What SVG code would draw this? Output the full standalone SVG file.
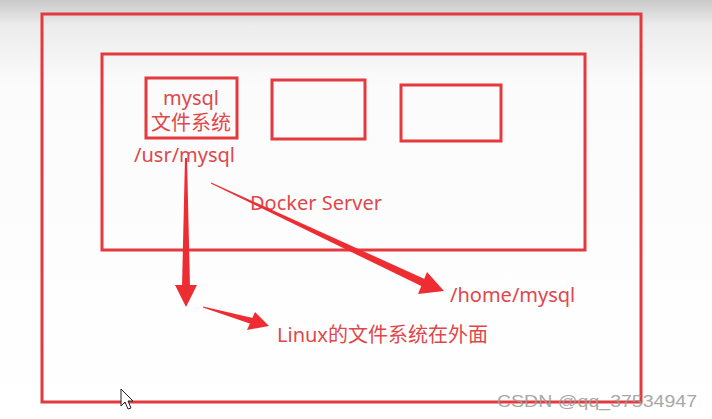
<svg xmlns="http://www.w3.org/2000/svg" width="712" height="419" viewBox="0 0 712 419">
  <defs>
    <linearGradient id="bg" x1="0" y1="0" x2="0" y2="1">
      <stop offset="0" stop-color="#c9c9c9"/>
      <stop offset="0.06" stop-color="#ececec"/>
      <stop offset="0.2" stop-color="#fbfbfb"/>
      <stop offset="1" stop-color="#ffffff"/>
    </linearGradient>
    <style>
      .box { fill: none; stroke: #e4393d; stroke-width: 3; }
      .txt { fill: #e0474a; font-family: "Noto Sans", "Noto Sans CJK SC", sans-serif; font-size: 20px; }
      .arr { fill: #ee2d33; }
      .wm { fill: #9a9a9a; font-family: "Liberation Sans", sans-serif; font-size: 17px; opacity: 0.85; }
    </style>
  </defs>
  <rect width="712" height="419" fill="url(#bg)"/>

  <g id="host">
    <rect class="box" x="42" y="14" width="599" height="388"/>
  </g>
  <g id="docker-server">
    <rect class="box" x="102" y="54" width="483" height="196"/>
    <text class="txt" x="250" y="210">Docker Server</text>
  </g>
  <g id="container-mysql">
    <rect class="box" x="146" y="78" width="91" height="60"/>
    <text class="txt" x="191" y="105" text-anchor="middle">mysql</text>
    <text class="txt" x="191" y="130" text-anchor="middle">文件系统</text>
  </g>
  <g id="container-2">
    <rect class="box" x="272" y="80" width="93" height="59"/>
  </g>
  <g id="container-3">
    <rect class="box" x="401" y="85" width="100" height="56"/>
  </g>
  <g id="label-usr">
    <text class="txt" x="134" y="162">/usr/mysql</text>
  </g>
  <g id="label-home">
    <text class="txt" x="450" y="302">/home/mysql</text>
  </g>
  <g id="label-linux">
    <text class="txt" x="277" y="342">Linux的文件系统在外面</text>
  </g>

  <g id="connectors">
    <polygon class="arr" points="185,158 187,158 190,287 182,287"/>
    <polygon class="arr" points="175,285 197,285 186,307"/>
    <polygon class="arr" points="211.2,182.5 210.8,183.5 422.3,286.6 425.7,279.4"/>
    <polygon class="arr" points="427,272 418,294 444,291"/>
    <polygon class="arr" points="203.1,306.5 202.9,307.5 251.2,323.9 252.8,318.1"/>
    <polygon class="arr" points="255,312 247,330 269,326"/>
  </g>

  <path d="M121,389 L121,406 L125,402 L128,409 L131,408 L128,401 L133,401 Z" fill="#ffffff" stroke="#222222" stroke-width="1"/>
  <text class="wm" x="497" y="407" textLength="200" lengthAdjust="spacingAndGlyphs">CSDN @qq_37534947</text>
</svg>
